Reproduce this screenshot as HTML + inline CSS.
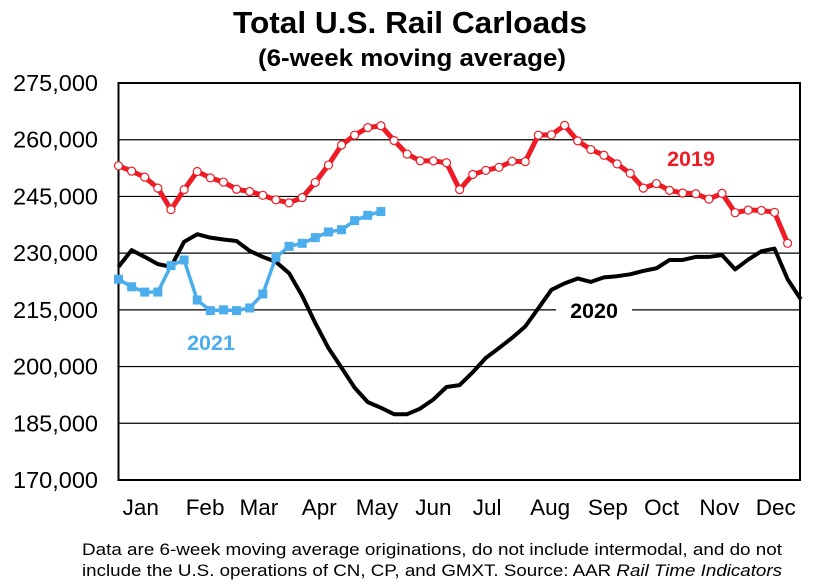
<!DOCTYPE html>
<html><head><meta charset="utf-8"><style>
body{margin:0;background:#fff;font-family:"Liberation Sans",Arial,sans-serif}
svg{display:block}
</style></head><body>
<svg id="chart" width="813" height="587" viewBox="0 0 813 587" xmlns="http://www.w3.org/2000/svg">
<text x="410" y="33" text-anchor="middle" font-size="31" font-weight="bold" textLength="354" lengthAdjust="spacingAndGlyphs">Total U.S. Rail Carloads</text>
<text x="412" y="66" text-anchor="middle" font-size="24" font-weight="bold" textLength="308" lengthAdjust="spacingAndGlyphs">(6-week moving average)</text>
<g id="grid"></g>
<g id="yticks"></g>
<g id="xticks"></g>
<g id="series"></g>
<text x="82" y="555" font-size="16.5" textLength="700" lengthAdjust="spacingAndGlyphs">Data are 6-week moving average originations, do not include intermodal, and do not</text>
<text x="82" y="576" font-size="16.5" textLength="700" lengthAdjust="spacingAndGlyphs">include the U.S. operations of CN, CP, and GMXT.   Source: AAR <tspan font-style="italic">Rail Time Indicators</tspan></text>
</svg>
<script>
const yTicks=[170000,185000,200000,215000,230000,245000,260000,275000];
const months=["Jan","Feb","Mar","Apr","May","Jun","Jul","Aug","Sep","Oct","Nov","Dec"];
const monthWeek=[2.7,7.6,11.7,16.3,20.7,25,29.1,33.9,38.3,42.4,46.8,51.1];
const s2019=[253100,251700,250100,247200,241500,246800,251600,249900,248800,246900,246300,245300,244100,243300,244700,248700,253300,258600,261200,263200,263700,259800,256200,254400,254400,253900,246800,250800,251900,252700,254300,254200,261200,261300,263800,259700,257400,255900,253600,251100,247200,248400,246600,245900,245700,244300,245800,240700,241400,241300,240800,232600];
const s2020=[226400,230800,229000,227100,226400,233000,235000,234100,233600,233200,230600,229000,227700,224700,218700,211500,204900,199700,194400,190600,189100,187400,187400,188900,191300,194600,195100,198500,202300,204900,207600,210600,215400,220300,222000,223300,222400,223600,223900,224400,225300,226000,228200,228200,229000,229000,229500,225700,228300,230500,231200,223100,217800];
const s2021=[223100,221100,219700,219700,226700,228200,217600,214800,215000,214800,215500,219200,228900,231800,232600,234100,235600,236200,238600,240000,241000];
const NS="http://www.w3.org/2000/svg";
const X0=118.5,X1=800,Y0=83,Y1=480;
const xs=w=>X0+(w-1)*13.12;
const ys=v=>Y1-(v-170000)/(105000)*(Y1-Y0);
function mk(t,a,p){const e=document.createElementNS(NS,t);for(const k in a)e.setAttribute(k,a[k]);p.appendChild(e);return e;}
const grid=document.getElementById('grid'),yt=document.getElementById('yticks'),xt=document.getElementById('xticks'),ser=document.getElementById('series');
yTicks.forEach(v=>{
 const l=mk('line',{x1:X0,x2:X1,y1:ys(v),y2:ys(v),stroke:'#000','stroke-width':1.2},grid);
 
 
 const t=mk('text',{x:98,y:ys(v)+8,'text-anchor':'end','font-size':23.5},yt);
 t.textContent=v.toLocaleString('en-US');
 
 
});
const fr=mk('rect',{x:X0,y:Y0,width:X1-X0,height:Y1-Y0,fill:'none',stroke:'#000','stroke-width':2},grid);


months.forEach((m,i)=>{
 const t=mk('text',{x:xs(monthWeek[i]),y:515,'text-anchor':'middle','font-size':22.5},xt);
 t.textContent=m;
 
 
});
function pts(a){return a.map((v,i)=>xs(i+1)+','+ys(v)).join(' ');}
function label(txt,x,y,col,name){
 const r=mk('rect',{x:x-38,y:y-20,width:76,height:26,fill:'#fff'},ser);
 
 
 const t=mk('text',{x:x,y:y,'text-anchor':'middle','font-size':21.5,'font-weight':'bold',fill:col},ser);
 t.textContent=txt;
 
 
}
label('2019',691,166,'#ee1c25','label-2019');
label('2020',594,318,'#000','label-2020');
const l20=mk('polyline',{points:pts(s2020),fill:'none',stroke:'#000','stroke-width':4,'stroke-linejoin':'round'},ser);


const l19=mk('polyline',{points:pts(s2019),fill:'none',stroke:'#ee1c25','stroke-width':5,'stroke-linejoin':'round'},ser);


s2019.forEach((v,i)=>{
 const c=mk('circle',{cx:xs(i+1),cy:ys(v),r:4,fill:'#fff',stroke:'#ee1c25','stroke-width':1.2},ser);
 
 
});
const l21=mk('polyline',{points:pts(s2021),fill:'none',stroke:'#4badec','stroke-width':3.5,'stroke-linejoin':'round'},ser);


s2021.forEach((v,i)=>{
 const r=mk('rect',{x:xs(i+1)-4.5,y:ys(v)-4.5,width:9,height:9,fill:'#4badec'},ser);
 
 
});
const t21=mk('text',{x:211,y:350,'text-anchor':'middle','font-size':21.5,'font-weight':'bold',fill:'#4badec'},ser);
t21.textContent='2021';


</script>
</body></html>
